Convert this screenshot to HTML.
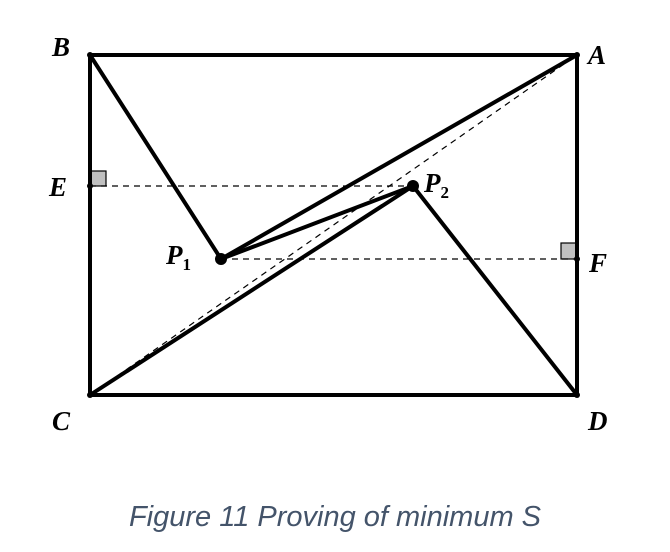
<!DOCTYPE html>
<html><head><meta charset="utf-8"><style>
html,body{margin:0;padding:0;background:#fff;}
svg{display:block;}
.lbl{font-family:"Liberation Serif",serif;font-weight:bold;font-style:italic;font-size:27px;fill:#000;}
.sub{font-size:17px;font-style:normal;}
</style></head><body>
<svg width="670" height="552" viewBox="0 0 670 552">
<g>
<rect x="90" y="171" width="16" height="15" fill="#c0c0c0" stroke="#000" stroke-width="1.2"/>
<rect x="561" y="243" width="16" height="16" fill="#c0c0c0" stroke="#000" stroke-width="1.2"/>
</g>
<g stroke="#000" stroke-width="1.2" stroke-dasharray="6,5" fill="none">
<line x1="90" y1="395" x2="577" y2="55"/>
<line x1="90" y1="186" x2="413" y2="186"/>
<line x1="221" y1="259" x2="577" y2="259"/>
</g>
<g stroke="#000" stroke-width="4" fill="none" stroke-linecap="round">
<rect x="90" y="55" width="487" height="340"/>
<line x1="90" y1="55" x2="221" y2="259"/>
<line x1="221" y1="259" x2="577" y2="55"/>
<line x1="221" y1="259" x2="413" y2="186"/>
<line x1="90" y1="395" x2="413" y2="186"/>
<line x1="413" y1="186" x2="577" y2="395"/>
</g>
<g fill="#000">
<circle cx="221" cy="259" r="6"/>
<circle cx="413" cy="186" r="6"/>
<circle cx="90" cy="55" r="3"/><circle cx="577" cy="55" r="3"/>
<circle cx="90" cy="395" r="3"/><circle cx="577" cy="395" r="3"/>
<circle cx="90" cy="186" r="3"/><circle cx="577" cy="259" r="3"/>
</g>
<text class="lbl" x="52" y="56">B</text>
<text class="lbl" x="588" y="64">A</text>
<text class="lbl" x="49" y="196">E</text>
<text class="lbl" x="589" y="272">F</text>
<text class="lbl" x="52" y="430">C</text>
<text class="lbl" x="588" y="430">D</text>
<text class="lbl" x="166" y="264">P<tspan class="sub" dy="6">1</tspan></text>
<text class="lbl" x="424" y="192">P<tspan class="sub" dy="6">2</tspan></text>
<text x="335" y="526" text-anchor="middle" font-family="Liberation Sans, sans-serif" font-style="italic" font-size="29" fill="#44546a">Figure 11 Proving of minimum S</text>
</svg>
</body></html>
